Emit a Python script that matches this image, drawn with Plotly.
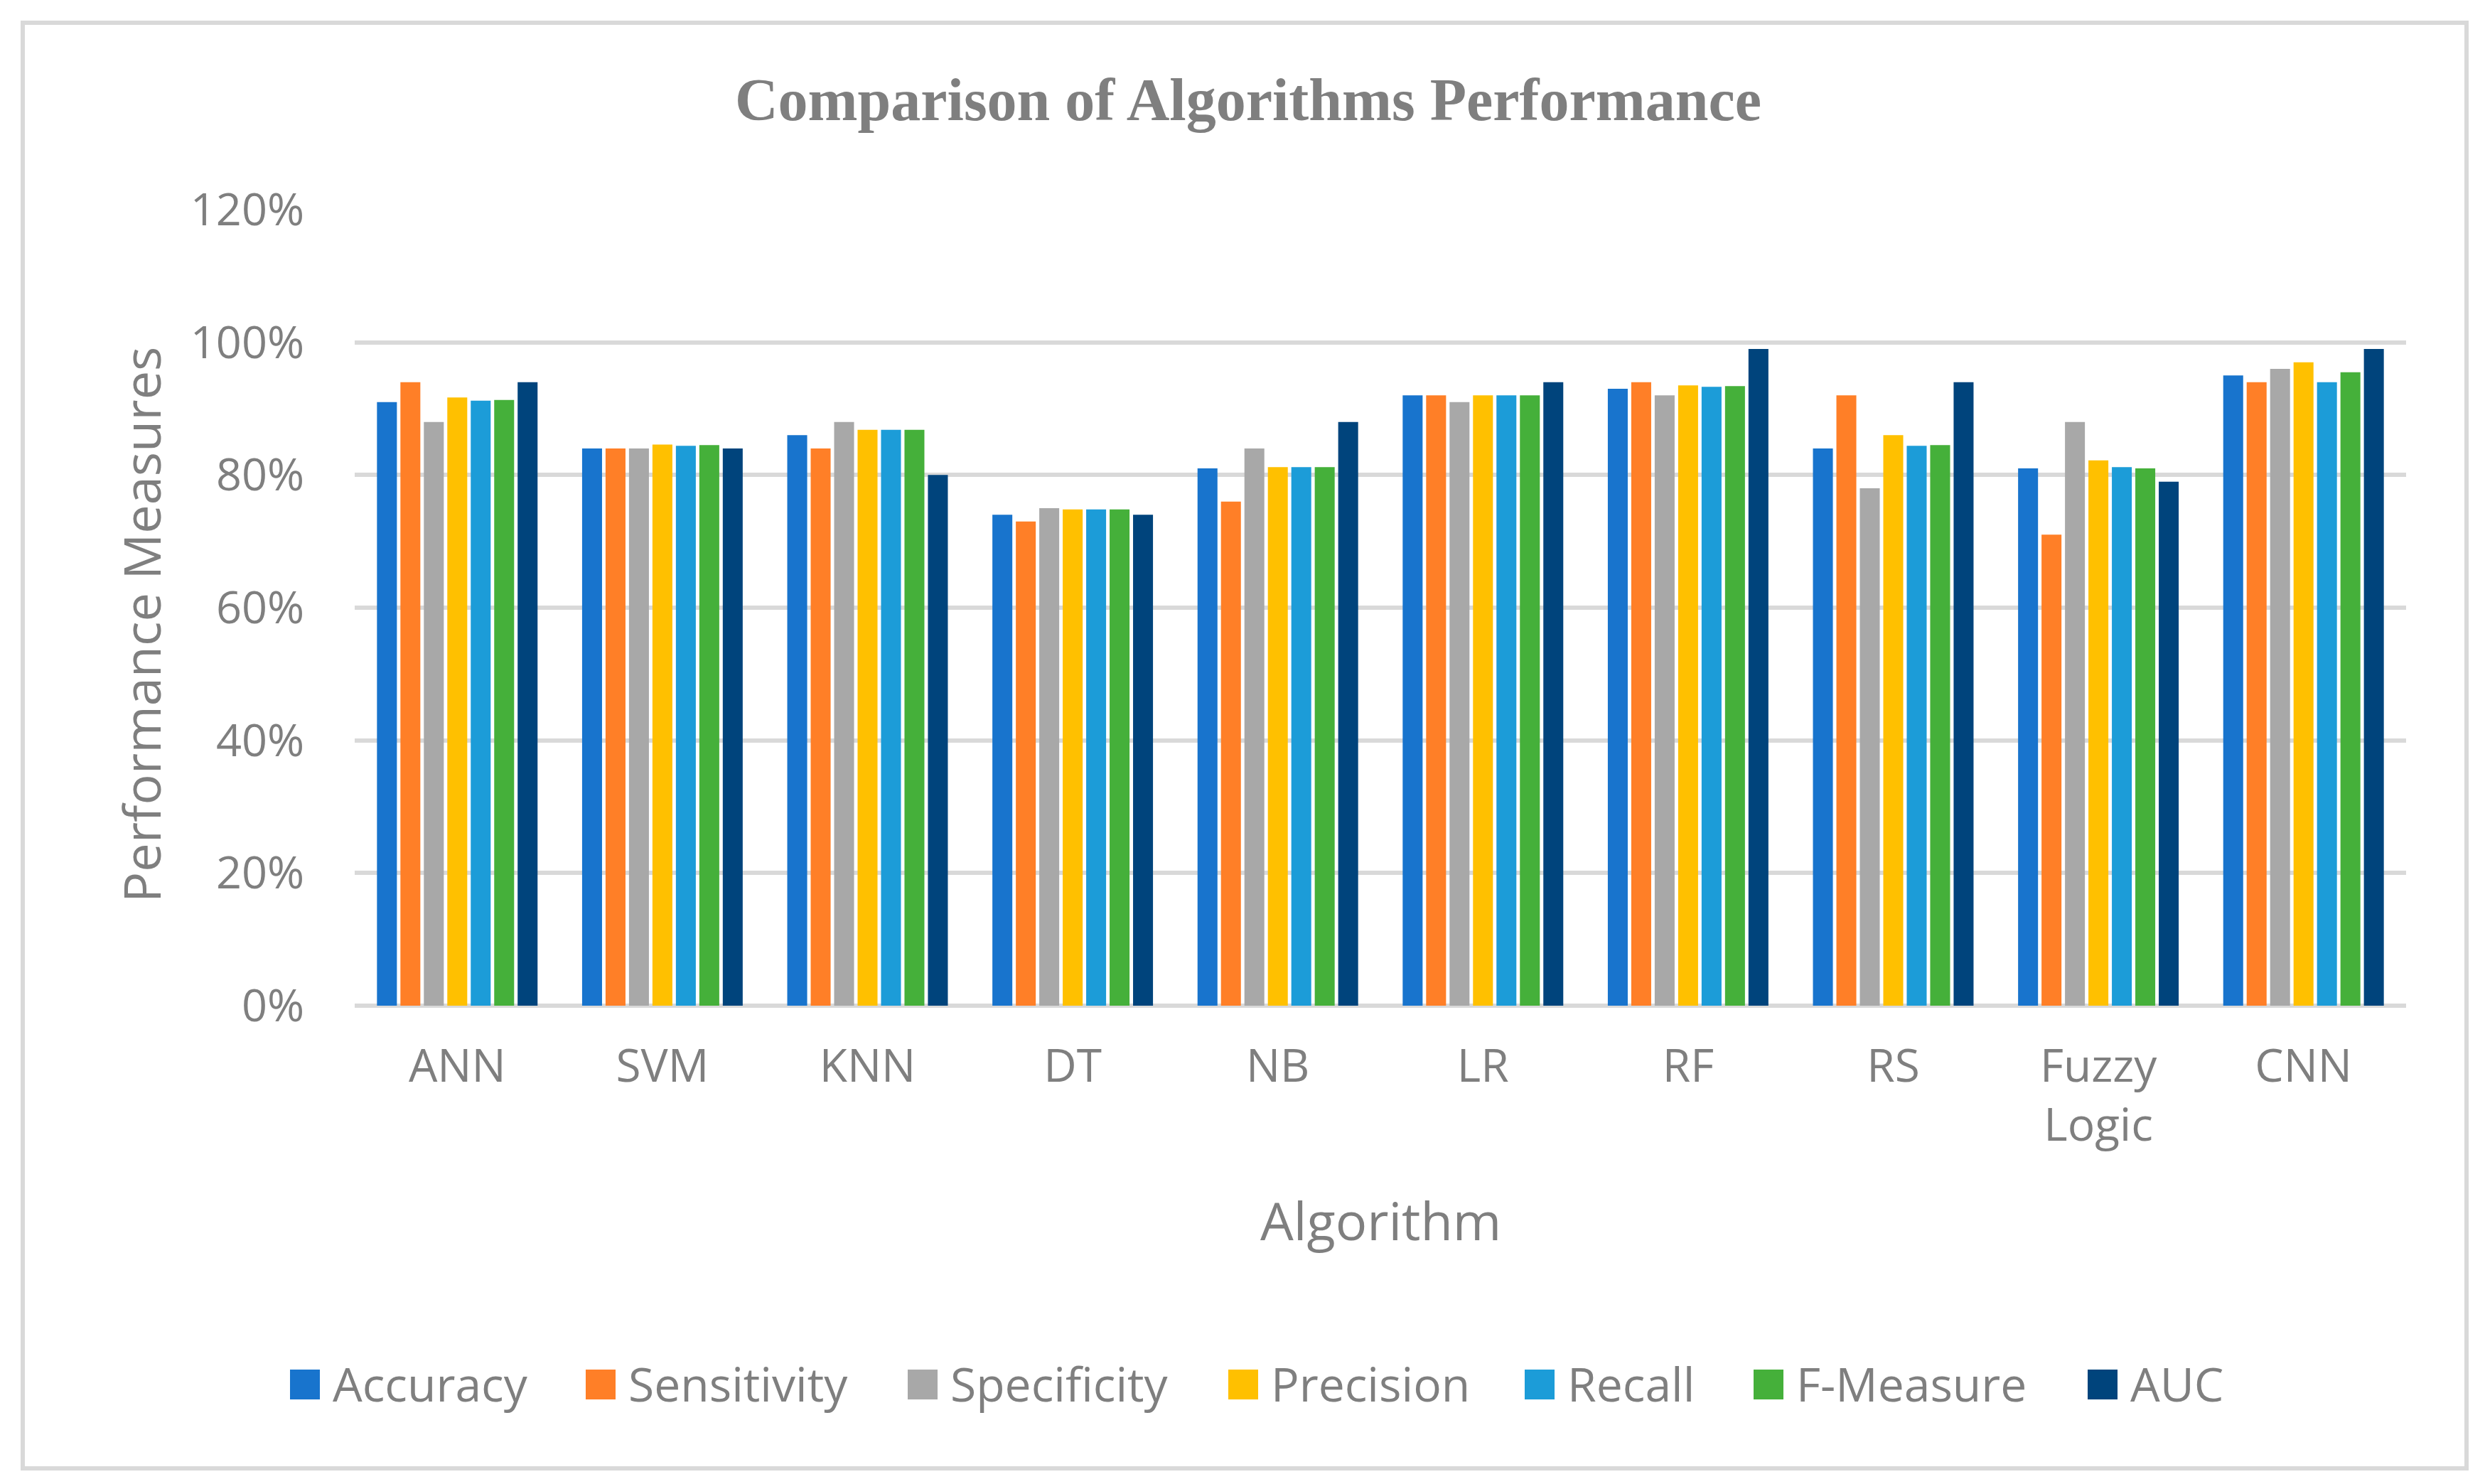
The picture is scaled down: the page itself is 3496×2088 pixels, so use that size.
import plotly.graph_objects as go

algorithms = ["ANN", "SVM", "KNN", "DT", "NB", "LR", "RF", "RS", "Fuzzy<br>Logic", "CNN"]

accuracy    = [0.91, 0.84, 0.86, 0.74, 0.81, 0.92, 0.93, 0.84, 0.81, 0.95]
sensitivity = [0.94, 0.84, 0.84, 0.73, 0.76, 0.92, 0.94, 0.92, 0.71, 0.94]
specificity = [0.88, 0.84, 0.88, 0.75, 0.84, 0.91, 0.92, 0.78, 0.88, 0.96]
precision   = [0.917, 0.846, 0.868, 0.748, 0.812, 0.92, 0.935, 0.86, 0.822, 0.97]
recall      = [0.912, 0.844, 0.868, 0.748, 0.812, 0.92, 0.933, 0.844, 0.812, 0.94]
f_measure   = [0.913, 0.845, 0.868, 0.748, 0.812, 0.92, 0.934, 0.845, 0.81, 0.955]
auc         = [0.94, 0.84, 0.80, 0.74, 0.88, 0.94, 0.99, 0.94, 0.79, 0.99]

series_names = ["Accuracy", "Sensitivity", "Specificity", "Precision", "Recall", "F-Measure", "AUC"]
series_values = [accuracy, sensitivity, specificity, precision, recall, f_measure, auc]
series_colors = ["#1874CD", "#FF7F27", "#A8A8A8", "#FFC000", "#1C9CD8", "#45B03A", "#00447C"]

y_ticks = [0, 0.2, 0.4, 0.6, 0.8, 1.0, 1.2]

W, H = 3496, 2088
ML, MR, MT, MB = 491, 119, 287, 681
PW = W - ML - MR
PH = H - MT - MB

TXT = "#7F7F7F"
GRID = "#D9D9D9"
SANS = "Open Sans"


def px_x(p):
    return (p - ML) / PW


def px_y(p):
    return (MT + PH - p) / PH


fig = go.Figure()
for name, vals, col in zip(series_names, series_values, series_colors):
    fig.add_trace(go.Bar(name=name, x=algorithms, y=vals, showlegend=False,
                         marker=dict(color=col, line=dict(width=0))))

fig.update_layout(
    width=W, height=H,
    margin=dict(l=ML, r=MR, t=MT, b=MB),
    paper_bgcolor="white", plot_bgcolor="white",
    barmode="group", bargap=0.2, bargroupgap=0.15,
    font=dict(family=SANS, color=TXT, size=64),
    title=dict(text="<b>Comparison of Algorithms Performance</b>",
               font=dict(family="Liberation Serif", size=84, color=TXT),
               x=0.5, xref="container", xanchor="center",
               y=1 - 132 / H, yref="container", yanchor="middle"),
    showlegend=False,
)
fig.update_xaxes(showgrid=False, showline=False, ticks="", tickfont=dict(size=64, color=TXT),
                 ticklabelstandoff=42)
fig.update_yaxes(range=[0, 1.2], tickvals=y_ticks, tickformat=".0%", showgrid=True,
                 gridcolor=GRID, gridwidth=6, zeroline=True, zerolinecolor=GRID, zerolinewidth=6,
                 showline=False, ticks="", tickfont=dict(size=63, color=TXT), ticklabelstandoff=70)

# axis titles
fig.add_annotation(text="Performance Measures", xref="paper", yref="paper",
                   x=px_x(190), y=px_y(871), textangle=-90,
                   showarrow=False, font=dict(size=72, color=TXT), xanchor="center", yanchor="middle")
fig.add_annotation(text="Algorithm", xref="paper", yref="paper",
                   x=0.5, y=px_y(1708),
                   showarrow=False, font=dict(size=74, color=TXT), xanchor="center", yanchor="middle")

# legend (square swatch + label per series)
legend_swatch_left = [400, 816, 1269, 1720, 2137, 2459, 2929]
SW = 42
LEG_Y = 1940
for name, col, x0 in zip(series_names, series_colors, legend_swatch_left):
    fig.add_shape(type="rect", xref="paper", yref="paper",
                  x0=px_x(x0), x1=px_x(x0 + SW), y0=px_y(LEG_Y + SW / 2), y1=px_y(LEG_Y - SW / 2),
                  line=dict(width=0), fillcolor=col)
    fig.add_annotation(text=name, xref="paper", yref="paper", x=px_x(x0 + SW + 16), y=px_y(LEG_Y - 2),
                       showarrow=False, font=dict(size=66, color=TXT), xanchor="left", yanchor="middle")

# chart border
fig.add_shape(type="rect", xref="paper", yref="paper",
              x0=px_x(24), x1=px_x(3462), y0=px_y(2058), y1=px_y(24),
              line=dict(color=GRID, width=6), fillcolor="rgba(0,0,0,0)", layer="below")

fig.write_html("out.html")
